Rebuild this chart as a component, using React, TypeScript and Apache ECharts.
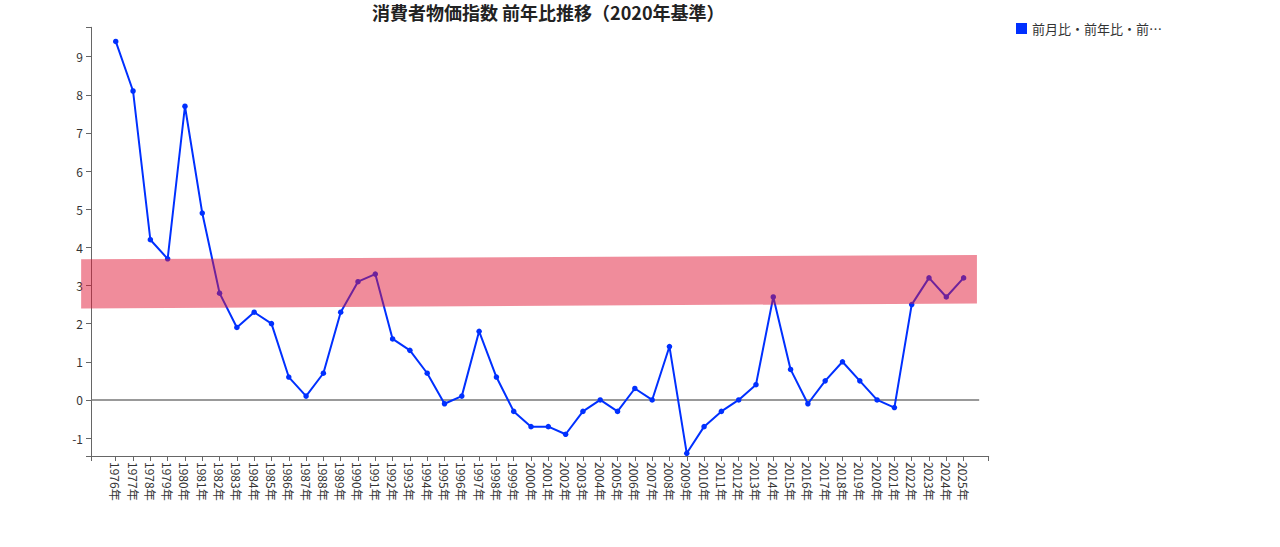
import React, { useEffect, useRef } from "react";
import * as echarts from "echarts";

const years = [
  1976, 1977, 1978, 1979, 1980, 1981, 1982, 1983, 1984, 1985,
  1986, 1987, 1988, 1989, 1990, 1991, 1992, 1993, 1994, 1995,
  1996, 1997, 1998, 1999, 2000, 2001, 2002, 2003, 2004, 2005,
  2006, 2007, 2008, 2009, 2010, 2011, 2012, 2013, 2014, 2015,
  2016, 2017, 2018, 2019, 2020, 2021, 2022, 2023, 2024, 2025,
];
const cpiYoY = [
  9.4, 8.1, 4.2, 3.7, 7.7, 4.9, 2.8, 1.9, 2.3, 2.0,
  0.6, 0.1, 0.7, 2.3, 3.1, 3.3, 1.6, 1.3, 0.7, -0.1,
  0.1, 1.8, 0.6, -0.3, -0.7, -0.7, -0.9, -0.3, 0.0, -0.3,
  0.3, 0.0, 1.4, -1.4, -0.7, -0.3, 0.0, 0.4, 2.7, 0.8,
  -0.1, 0.5, 1.0, 0.5, 0.0, -0.2, 2.5, 3.2, 2.7, 3.2,
];
const yTickLabels = [-1, 0, 1, 2, 3, 4, 5, 6, 7, 8, 9];
const xExtent = [1974.57, 2026.45];
const yExtent = [-1.47, 9.77];
const bandX = [1974.0, 2025.77];
const bandLower = [2.4, 2.53];
const bandUpper = [3.69, 3.8];
const zeroLineX = [1974.57, 2025.9];
const seriesName = "前月比・前年比・前年同月比";
const titleText = "消費者物価指数 前年比推移（2020年基準）";

const FONT = "'Noto Sans CJK JP', 'Noto Sans', sans-serif";

export default function App() {
  const ref = useRef<HTMLDivElement>(null);
  useEffect(() => {
    if (!ref.current) return;
    const chart = echarts.init(ref.current, undefined, { renderer: "svg" });
    chart.setOption({
      animation: false,
      textStyle: { fontFamily: FONT },
      title: {
        text: titleText,
        left: 372,
        top: 3,
        padding: 0,
        textStyle: { fontSize: 18, fontWeight: "bold", color: "#222", fontFamily: FONT },
      },
      legend: {
        data: [seriesName],
        left: 1011,
        top: 17,
        icon: "rect",
        itemWidth: 11,
        itemHeight: 11,
        textStyle: {
          fontSize: 13,
          color: "#333",
          width: 134,
          overflow: "truncate",
          ellipsis: "…",
          fontFamily: FONT,
        },
      },
      grid: { left: 91, right: 1280 - 988.7, top: 27.3, bottom: 547 - 456 },
      xAxis: {
        type: "value",
        min: xExtent[0],
        max: xExtent[1],
        splitLine: { show: false },
        axisLine: { onZero: false, lineStyle: { color: "#666", width: 1 } },
        axisTick: {
          length: 5,
          customValues: [xExtent[0], ...years, xExtent[1]],
          lineStyle: { color: "#666" },
        },
        axisLabel: {
          customValues: years,
          rotate: -90,
          margin: 6,
          fontSize: 12,
          color: "#333",
          fontFamily: FONT,
          formatter: (v: number) => `${v}年`,
        },
      },
      yAxis: {
        type: "value",
        min: yExtent[0],
        max: yExtent[1],
        splitLine: { show: false },
        axisLine: { show: true, onZero: false, lineStyle: { color: "#666", width: 1 } },
        axisTick: {
          show: true,
          length: 5,
          customValues: [yExtent[0], ...yTickLabels, yExtent[1]],
          lineStyle: { color: "#666" },
        },
        axisLabel: {
          customValues: yTickLabels,
          margin: 8,
          fontSize: 12,
          color: "#333",
          fontFamily: FONT,
        },
      },
      series: [
        {
          type: "line",
          name: "zero",
          data: zeroLineX.map((x) => [x, 0]),
          symbol: "none",
          silent: true,
          z: 1,
          lineStyle: { color: "#777", width: 1.5 },
        },
        {
          type: "line",
          name: seriesName,
          data: years.map((y, i) => [y, cpiYoY[i]]),
          symbol: "circle",
          symbolSize: 5.5,
          z: 3,
          itemStyle: { color: "#0030ff" },
          lineStyle: { color: "#0030ff", width: 2 },
        },
        {
          type: "custom",
          name: "band",
          silent: true,
          z: 4,
          data: [[bandX[1], bandUpper[1]]],
          renderItem: (_params: any, api: any) => {
            const pts = [
              api.coord([bandX[0], bandUpper[0]]),
              api.coord([bandX[1], bandUpper[1]]),
              api.coord([bandX[1], bandLower[1]]),
              api.coord([bandX[0], bandLower[0]]),
            ];
            return {
              type: "polygon",
              shape: { points: pts },
              style: { fill: "rgba(225,20,50,0.49)" },
            };
          },
        },
      ],
    });
    return () => chart.dispose();
  }, []);
  return (
    <div
      ref={ref}
      style={{ position: "absolute", left: 0, top: 0, width: 1280, height: 547 }}
    />
  );
}
